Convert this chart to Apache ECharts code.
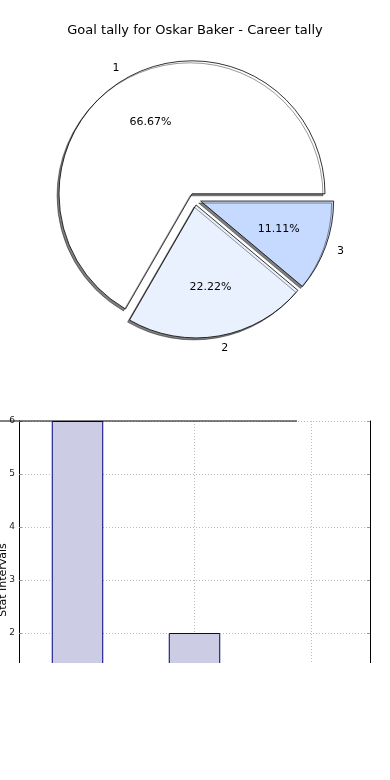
<!DOCTYPE html>
<html>
<head>
<meta charset="utf-8">
<script src="https://cdn.jsdelivr.net/npm/echarts@6/dist/echarts.min.js"></script>
<style>
html,body{margin:0;padding:0;background:#fff;}
#chart{width:390px;height:663px;}
</style>
</head>
<body>
<div id="chart"></div>
<script>
// ---- data ----
const titleText = 'Goal tally for Oskar Baker - Career tally';
const sliceNames = ['1', '2', '3'];
const sliceValues = [6, 2, 1];
const sliceColors = ['#ffffff', '#eaf1fe', '#c6d9ff'];
const barCategories = ['1', '2', '3'];
const barValues = [6, 2, 1];
const yAxisName = 'Stat Intervals';

const FONT = 'DejaVu Sans';
const chart = echarts.init(document.getElementById('chart'), null, {renderer: 'canvas'});

const baseItem = (c) => ({
  color: c, borderColor: '#000', borderWidth: 0.8,
  shadowColor: 'rgba(0,0,0,0.5)', shadowBlur: 0, shadowOffsetX: -2, shadowOffsetY: 2
});

const pieData = sliceNames.map((n, i) => ({
  name: n, value: sliceValues[i], selected: true,
  itemStyle: baseItem(sliceColors[i]),
  select: {itemStyle: baseItem(sliceColors[i])}
}));
const pieLabelData = sliceNames.map((n, i) => ({
  name: n, value: sliceValues[i], selected: true
}));

const option = {
  animation: false,
  title: {
    text: titleText, left: 'center', top: 19,
    textStyle: {fontFamily: FONT, fontSize: 13, fontWeight: 'normal', color: '#000'}
  },
  grid: {left: 19, right: 20, top: 421, height: 318, containLabel: false, outerBoundsMode: 'none'},
  xAxis: {
    type: 'category', data: barCategories,
    axisLine: {show: false}, axisTick: {show: false}, axisLabel: {show: false},
    splitLine: {show: true, alignWithLabel: true, lineStyle: {color: '#bdbdbd', type: [1, 2], width: 1}}
  },
  yAxis: [{
    type: 'value', min: 0, max: 6, interval: 1, position: 'left',
    name: yAxisName, nameLocation: 'middle', nameGap: 10, nameRotate: 90, nameMoveOverlap: false,
    nameTextStyle: {fontFamily: FONT, fontSize: 11, color: '#000'},
    axisLine: {show: true, lineStyle: {color: '#000', width: 1}},
    axisTick: {show: true, inside: true, length: 3, lineStyle: {color: '#999'}},
    axisLabel: {fontFamily: FONT, fontSize: 9, color: '#222', margin: 4},
    splitLine: {show: true, lineStyle: {color: '#bdbdbd', type: [1, 2], width: 1}}
  }, {
    type: 'value', min: 0, max: 6, interval: 1, position: 'right',
    axisLine: {show: true, lineStyle: {color: '#000', width: 1}},
    axisTick: {show: true, inside: true, length: 3, lineStyle: {color: '#999'}},
    axisLabel: {show: false}, splitLine: {show: false}
  }],
  graphic: [{
    type: 'line', shape: {x1: 0, y1: 421, x2: 297, y2: 421},
    style: {stroke: '#000', lineWidth: 1}, z: 10
  }],
  series: [{
    type: 'pie', center: [195, 199], radius: 133,
    startAngle: 0, clockwise: false,
    selectedMode: 'multiple', selectedOffset: 6,
    avoidLabelOverlap: false,
    label: {show: true, position: 'outside', formatter: '{b}', fontFamily: FONT, fontSize: 11, color: '#000', distanceToLabelLine: 0},
    labelLine: {show: false, length: 12, length2: 0},
    emphasis: {disabled: true},
    data: pieData
  }, {
    type: 'pie', center: [195, 199], radius: 160,
    startAngle: 0, clockwise: false,
    selectedMode: 'multiple', selectedOffset: 6,
    silent: true, z: 5,
    itemStyle: {color: 'rgba(0,0,0,0)', borderWidth: 0},
    select: {itemStyle: {color: 'rgba(0,0,0,0)', borderWidth: 0}},
    label: {show: true, position: 'inside', formatter: '{d}%', fontFamily: FONT, fontSize: 11, color: '#000'},
    labelLine: {show: false},
    emphasis: {disabled: true},
    data: pieLabelData
  }, {
    type: 'bar', xAxisIndex: 0, yAxisIndex: 0,
    data: barValues, barWidth: '44%',
    itemStyle: {color: '#ccccE5', borderColor: '#000080', borderWidth: 1},
    emphasis: {disabled: true}
  }]
};
chart.setOption(option);
</script>
</body>
</html>
